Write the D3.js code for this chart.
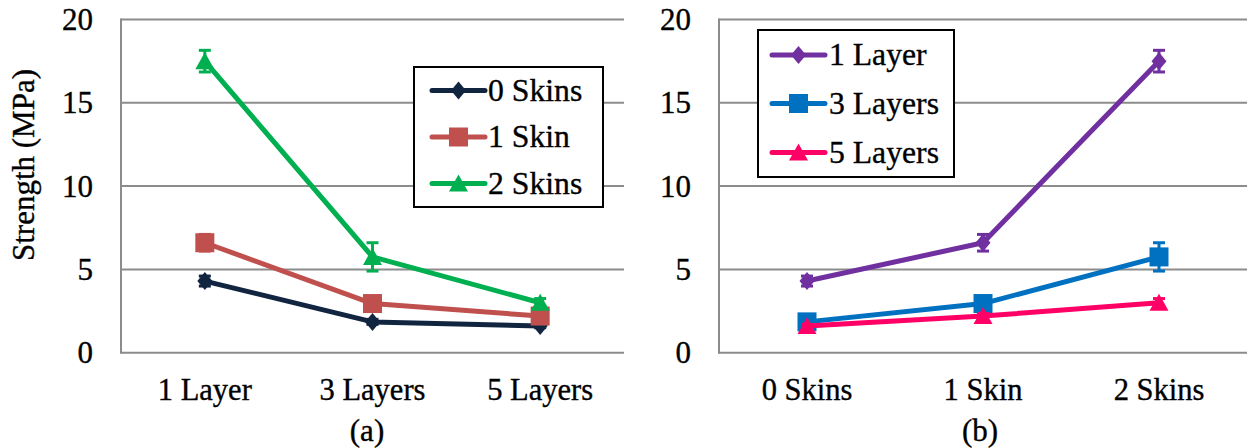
<!DOCTYPE html>
<html>
<head>
<meta charset="utf-8">
<script src="https://cdn.jsdelivr.net/npm/d3@7"></script>
<style>
  html, body { margin: 0; padding: 0; background: #fff; }
  svg { display: block; }
</style>
</head>
<body>
<svg id="chart" width="1247" height="448"></svg>
<script>
// Tensile strength (MPa) by layer count and skin count
const layers = ["1 Layer", "3 Layers", "5 Layers"];
const skins = ["0 Skins", "1 Skin", "2 Skins"];

// strength per skin count, across 1 / 3 / 5 layers
const strength0Skins = [4.3, 1.85, 1.6];
const strength1Skin  = [6.6, 2.95, 2.2];
const strength2Skins = [17.5, 5.75, 3.0];

// standard deviation, same layout
const err0Skins = [0.3, 0.15, 0.1];
const err1Skin  = [0.5, 0.2, 0.15];
const err2Skins = [0.65, 0.85, 0.25];

const yTicks = [0, 5, 10, 15, 20];

const strengthBySkin = [strength0Skins, strength1Skin, strength2Skins];
const errBySkin = [err0Skins, err1Skin, err2Skins];

// Panel (a): x = layers, one series per skin count
const seriesA = skins.map((s, i) => ({
  name: s,
  values: layers.map((c, j) => ({ cat: c, v: strengthBySkin[i][j], e: errBySkin[i][j] }))
}));
// Panel (b): x = skins, one series per layer count
const seriesB = layers.map((l, j) => ({
  name: l,
  values: skins.map((c, i) => ({ cat: c, v: strengthBySkin[i][j], e: errBySkin[i][j] }))
}));

const svg = d3.select("#chart");
const FAMILY = "'Liberation Serif', Tinos, 'Times New Roman', serif";

const y = d3.scaleLinear().domain([0, 20]).range([352.7, 19.5]);

function marker(g, shape, color, cx, cy) {
  if (shape === "diamond") {
    g.append("path")
      .attr("d", `M${cx},${cy - 9}L${cx + 7.5},${cy}L${cx},${cy + 9}L${cx - 7.5},${cy}Z`)
      .attr("fill", color);
  } else if (shape === "square") {
    g.append("rect")
      .attr("x", cx - 9.5).attr("y", cy - 9.5)
      .attr("width", 19).attr("height", 19)
      .attr("fill", color);
  } else {
    g.append("path")
      .attr("d", `M${cx},${cy - 9}L${cx + 9.5},${cy + 8}L${cx - 9.5},${cy + 8}Z`)
      .attr("fill", color);
  }
}

function label(g, size) {
  return g.append("text")
    .attr("font-family", FAMILY).attr("font-size", size)
    .attr("fill", "#000").attr("stroke", "#000").attr("stroke-width", 0.35);
}

function drawPanel(cfg) {
  const g = svg.append("g");
  const x = d3.scaleBand().domain(cfg.cats).range([cfg.left, cfg.right]).padding(0);
  const cx = c => x(c) + x.bandwidth() / 2;

  // horizontal gridlines
  g.selectAll(".grid").data(yTicks).join("line")
    .attr("x1", cfg.left).attr("x2", cfg.right)
    .attr("y1", d => y(d)).attr("y2", d => y(d))
    .attr("stroke", "#8c8c8c").attr("stroke-width", 2);

  // vertical axis line
  g.append("line")
    .attr("x1", cfg.left).attr("x2", cfg.left)
    .attr("y1", y(20) - 1).attr("y2", y(0) + 1)
    .attr("stroke", "#8c8c8c").attr("stroke-width", 2);

  // y tick labels
  yTicks.forEach(t => {
    label(g, 31).attr("x", cfg.left - 28).attr("y", y(t) + 10.5)
      .attr("text-anchor", "end").text(t);
  });

  // category labels
  cfg.cats.forEach(c => {
    label(g, 30.5).attr("x", cx(c)).attr("y", 400)
      .attr("text-anchor", "middle").text(c);
  });

  // panel caption
  label(g, 31).attr("x", cfg.captionX).attr("y", 441)
    .attr("text-anchor", "middle").text(cfg.caption);

  const line = d3.line().x(d => cx(d.cat)).y(d => y(d.v));

  cfg.series.forEach((s, i) => {
    const color = cfg.colors[i];
    const sg = g.append("g");
    sg.append("path").datum(s.values)
      .attr("d", line).attr("fill", "none")
      .attr("stroke", color).attr("stroke-width", 5)
      .attr("stroke-linejoin", "round").attr("stroke-linecap", "round");
    // error bars
    s.values.forEach(d => {
      const px = cx(d.cat);
      sg.append("line")
        .attr("x1", px).attr("x2", px)
        .attr("y1", y(d.v - d.e)).attr("y2", y(d.v + d.e))
        .attr("stroke", color).attr("stroke-width", 3);
      [d.v - d.e, d.v + d.e].forEach(v => {
        sg.append("line")
          .attr("x1", px - 6).attr("x2", px + 6)
          .attr("y1", y(v)).attr("y2", y(v))
          .attr("stroke", color).attr("stroke-width", 3);
      });
    });
    s.values.forEach(d => marker(sg, cfg.shapes[i], color, cx(d.cat), y(d.v)));
  });

  // legend
  const lg = g.append("g");
  lg.append("rect")
    .attr("x", cfg.legend.x).attr("y", cfg.legend.y)
    .attr("width", cfg.legend.w).attr("height", cfg.legend.h)
    .attr("fill", "#fff").attr("stroke", "#000").attr("stroke-width", 2);
  cfg.series.forEach((s, i) => {
    const ly = cfg.legend.rowY[i];
    const color = cfg.colors[i];
    lg.append("line")
      .attr("x1", cfg.legend.lineX0).attr("x2", cfg.legend.lineX1)
      .attr("y1", ly).attr("y2", ly)
      .attr("stroke", color).attr("stroke-width", 5).attr("stroke-linecap", "round");
    marker(lg, cfg.shapes[i], color, (cfg.legend.lineX0 + cfg.legend.lineX1) / 2, ly);
    label(lg, 31.7).attr("x", cfg.legend.textX).attr("y", ly + 10).text(s.name);
  });
}

drawPanel({
  cats: layers, series: seriesA, left: 121, right: 624,
  colors: ["#112541", "#c0504d", "#00b050"],
  shapes: ["diamond", "square", "triangle"],
  caption: "(a)", captionX: 367,
  legend: { x: 414, y: 67, w: 189, h: 140, rowY: [90.5, 137, 183.5], lineX0: 432, lineX1: 485, textX: 488 }
});

drawPanel({
  cats: skins, series: seriesB, left: 719, right: 1247,
  colors: ["#7030a0", "#0070c0", "#ff0066"],
  shapes: ["diamond", "square", "triangle"],
  caption: "(b)", captionX: 980,
  legend: { x: 758, y: 30, w: 196, h: 147, rowY: [55, 103.5, 152.5], lineX0: 772, lineX1: 825, textX: 829 }
});

// y-axis title
label(svg, 31).attr("transform", "translate(34,165) rotate(-90)")
  .attr("text-anchor", "middle").text("Strength (MPa)");
</script>
</body>
</html>
